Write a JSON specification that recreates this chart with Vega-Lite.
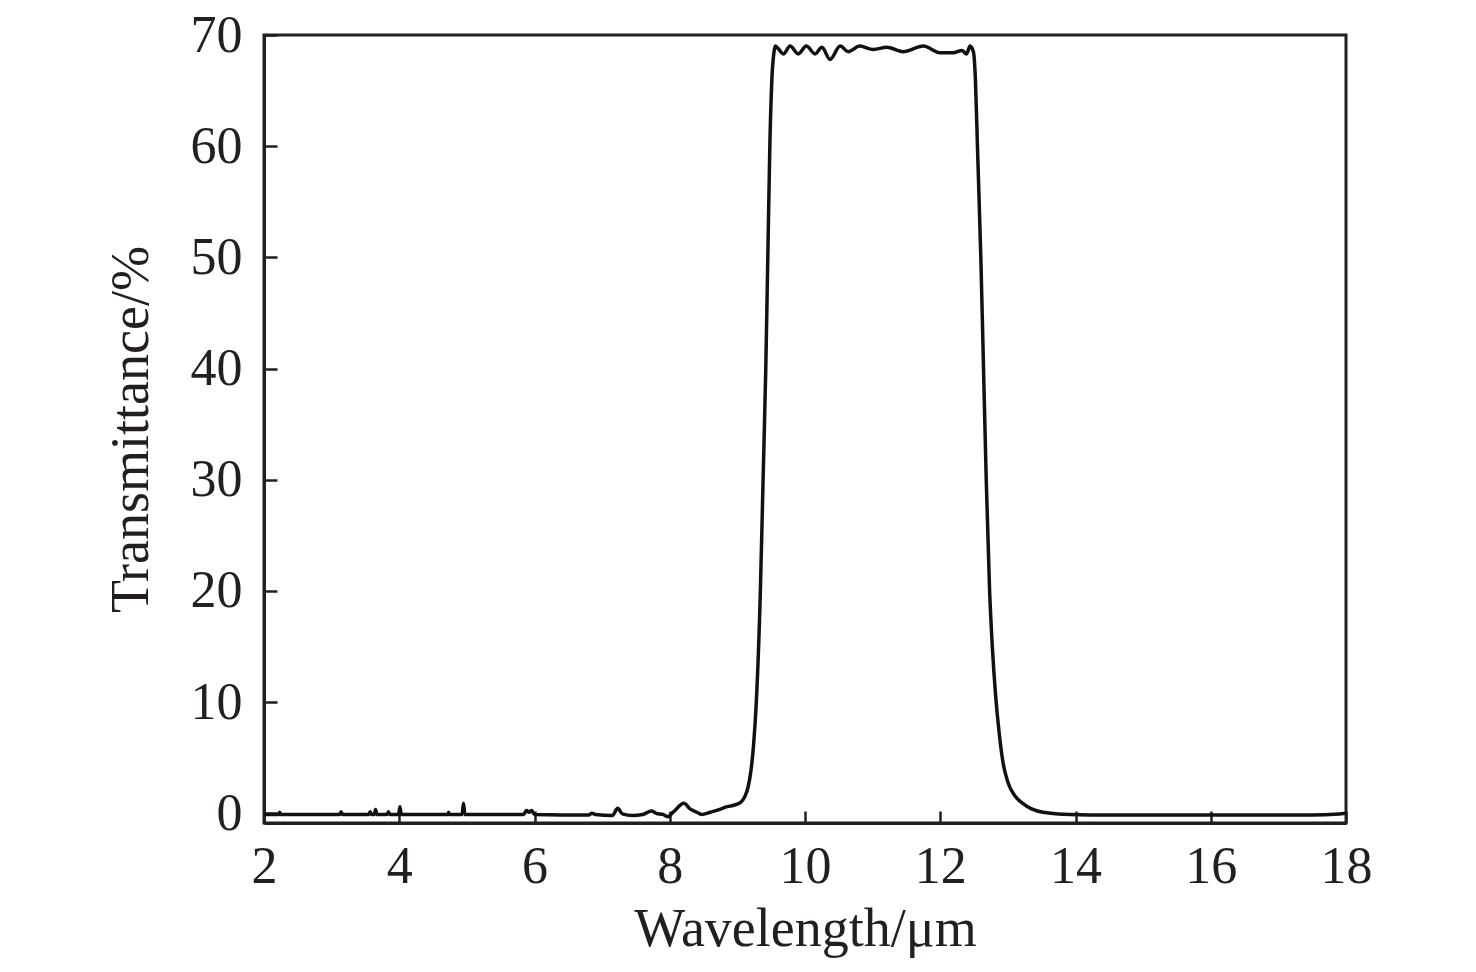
{
  "$schema": "https://vega.github.io/schema/vega-lite/v6.json",
  "width": 1082,
  "height": 788,
  "autosize": "none",
  "padding": {"left": 264, "top": 35, "right": 130, "bottom": 149},
  "background": "white",
  "config": {
    "view": {"stroke": "#231f20", "strokeWidth": 3},
    "axis": {
      "grid": false,
      "domainColor": "#231f20",
      "domainWidth": 3,
      "tickColor": "#231f20",
      "tickWidth": 2.5,
      "labelFlush": false,
      "labelFont": "Liberation Serif",
      "labelFontSize": 52,
      "labelColor": "#231f20",
      "titleFont": "Liberation Serif",
      "titleFontSize": 54,
      "titleFontWeight": "normal",
      "titleColor": "#231f20"
    }
  },
  "data": {
    "values": [
      {"w": 2.00, "t": -0.1}, {"w": 2.22, "t": -0.1}, {"w": 2.23, "t": 0.1}, {"w": 2.25, "t": -0.1},
      {"w": 3.12, "t": -0.1}, {"w": 3.14, "t": 0.15}, {"w": 3.16, "t": -0.1},
      {"w": 3.55, "t": -0.1}, {"w": 3.57, "t": 0.15}, {"w": 3.59, "t": -0.1},
      {"w": 3.63, "t": -0.1}, {"w": 3.65, "t": 0.35}, {"w": 3.67, "t": -0.1},
      {"w": 3.82, "t": -0.1}, {"w": 3.84, "t": 0.15}, {"w": 3.86, "t": -0.1},
      {"w": 3.99, "t": -0.1}, {"w": 4.01, "t": 0.6}, {"w": 4.03, "t": -0.1},
      {"w": 4.72, "t": -0.1}, {"w": 4.73, "t": 0.1}, {"w": 4.74, "t": -0.1},
      {"w": 4.93, "t": -0.1}, {"w": 4.95, "t": 0.9}, {"w": 4.97, "t": -0.1},
      {"w": 5.84, "t": -0.1}, {"w": 5.88, "t": 0.25}, {"w": 5.92, "t": 0.1}, {"w": 5.96, "t": 0.25}, {"w": 6.00, "t": -0.1},
      {"w": 6.80, "t": -0.15}, {"w": 6.85, "t": 0.0}, {"w": 6.90, "t": -0.1},
      {"w": 7.15, "t": -0.2}, {"w": 7.23, "t": 0.45}, {"w": 7.30, "t": -0.05}, {"w": 7.45, "t": -0.2},
      {"w": 7.60, "t": -0.1}, {"w": 7.73, "t": 0.2}, {"w": 7.80, "t": 0.0}, {"w": 7.90, "t": -0.1},
      {"w": 7.97, "t": -0.3}, {"w": 8.05, "t": 0.1}, {"w": 8.21, "t": 0.9}, {"w": 8.30, "t": 0.4},
      {"w": 8.40, "t": 0.1}, {"w": 8.47, "t": -0.1}, {"w": 8.60, "t": 0.1}, {"w": 8.74, "t": 0.35},
      {"w": 8.85, "t": 0.6}, {"w": 8.96, "t": 0.75}, {"w": 9.05, "t": 1.0}, {"w": 9.11, "t": 1.5},
      {"w": 9.16, "t": 2.4}, {"w": 9.20, "t": 3.8}, {"w": 9.24, "t": 6.2}, {"w": 9.28, "t": 10},
      {"w": 9.34, "t": 20}, {"w": 9.38, "t": 30}, {"w": 9.42, "t": 40}, {"w": 9.45, "t": 50},
      {"w": 9.48, "t": 60}, {"w": 9.51, "t": 66}, {"w": 9.54, "t": 68.4}, {"w": 9.56, "t": 69.0},
      {"w": 9.60, "t": 68.8}, {"w": 9.68, "t": 68.3}, {"w": 9.78, "t": 69.0}, {"w": 9.90, "t": 68.3},
      {"w": 10.02, "t": 69.0}, {"w": 10.15, "t": 68.3}, {"w": 10.25, "t": 68.9}, {"w": 10.37, "t": 67.8},
      {"w": 10.52, "t": 69.0}, {"w": 10.64, "t": 68.5}, {"w": 10.81, "t": 69.0}, {"w": 11.01, "t": 68.7},
      {"w": 11.21, "t": 68.9}, {"w": 11.45, "t": 68.5}, {"w": 11.75, "t": 69.0}, {"w": 12.00, "t": 68.4},
      {"w": 12.19, "t": 68.4}, {"w": 12.32, "t": 68.6}, {"w": 12.39, "t": 68.3}, {"w": 12.44, "t": 69.0},
      {"w": 12.49, "t": 68.5}, {"w": 12.52, "t": 66}, {"w": 12.55, "t": 60}, {"w": 12.60, "t": 50},
      {"w": 12.64, "t": 40}, {"w": 12.68, "t": 30}, {"w": 12.73, "t": 20}, {"w": 12.77, "t": 15},
      {"w": 12.82, "t": 10.5}, {"w": 12.87, "t": 7.3}, {"w": 12.93, "t": 4.5}, {"w": 13.00, "t": 2.8},
      {"w": 13.10, "t": 1.6}, {"w": 13.22, "t": 0.9}, {"w": 13.35, "t": 0.4}, {"w": 13.52, "t": 0.1},
      {"w": 13.92, "t": -0.1}, {"w": 14.5, "t": -0.15}, {"w": 16.0, "t": -0.15}, {"w": 17.5, "t": -0.15},
      {"w": 17.9, "t": -0.05}, {"w": 18.0, "t": 0.0}
    ]
  },
  "mark": {"type": "line", "color": "#111111", "strokeWidth": 3.5, "interpolate": "monotone"},
  "encoding": {
    "x": {
      "field": "w",
      "type": "quantitative",
      "scale": {"domain": [2, 18], "nice": false, "zero": false},
      "axis": {
        "title": "Wavelength/μm",
        "values": [2, 4, 6, 8, 10, 12, 14, 16, 18],
        "tickSize": -12,
        "labelPadding": 30,
        "titlePadding": 10
      }
    },
    "y": {
      "field": "t",
      "type": "quantitative",
      "scale": {"domain": [-0.87, 70], "nice": false, "zero": false},
      "axis": {
        "title": "Transmittance/%",
        "values": [0, 10, 20, 30, 40, 50, 60, 70],
        "tickSize": -13,
        "labelPadding": 35,
        "titlePadding": 32
      }
    }
  }
}
